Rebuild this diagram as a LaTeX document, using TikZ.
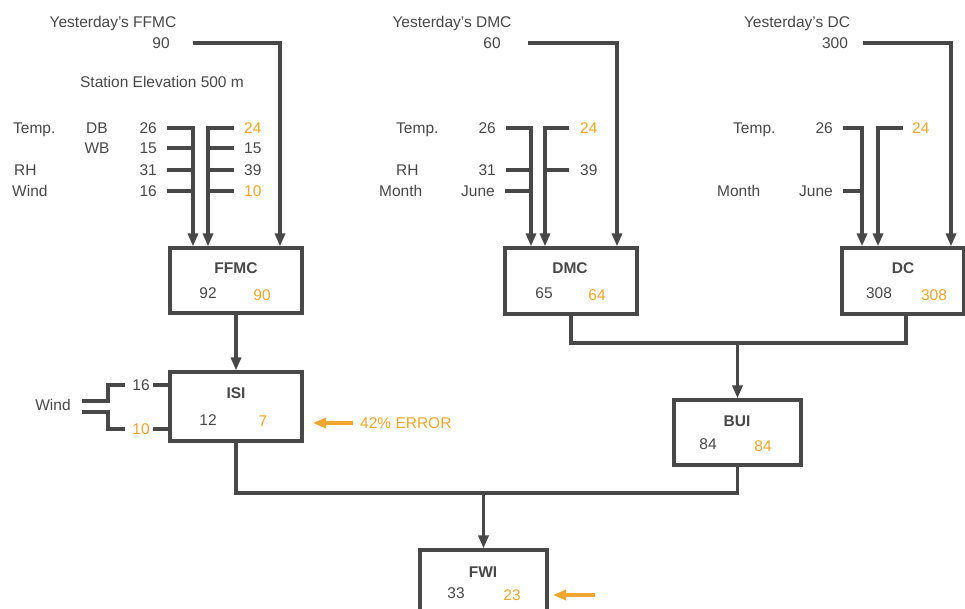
\documentclass[tikz,border=0pt]{standalone}
\usepackage{fontspec}
\setmainfont{Liberation Sans}
\usetikzlibrary{arrows.meta}
\definecolor{ink}{HTML}{484848}
\definecolor{org}{HTML}{F0A630}
\tikzset{
  lbl/.style={text=ink, font=\fontsize{15.5}{18}\selectfont, inner sep=0pt, text height=11pt, text depth=0pt, anchor=center},
  olbl/.style={lbl, text=org},
  ttl/.style={lbl, font=\fontsize{15.5}{18}\selectfont\bfseries},
  wire/.style={draw=ink, line width=3.2pt},
  arr/.style={wire, -{Triangle[length=13pt,width=10pt]}},
  oarr/.style={draw=org, line width=3.2pt, -{Triangle[length=13pt,width=10pt]}},
  blk/.style={draw=ink, line width=3.2pt, fill=white, inner sep=0pt, minimum width=#1},
  blk/.default=132pt
}
\begin{document}
\begin{tikzpicture}[x=1pt,y=-1pt]
\useasboundingbox (0,0) rectangle (965,608);
\clip (0,0) rectangle (965,608);

% ---------- boxes ----------
\node[blk, minimum height=65pt] (ffmc) at (236,280.5) {};
\node[blk, minimum height=69pt] (isi) at (236,406.5) {};
\node[blk, minimum height=66pt] (dmc) at (571,281) {};
\node[blk=122pt, minimum height=66pt] (dc) at (903,281) {};
\node[blk=127pt, minimum height=65pt] (bui) at (737.5,432.5) {};
\node[blk=127pt, minimum height=66pt] (fwi) at (483.5,583) {};

\node[ttl] (tffmc) at (236,268) {FFMC};
\node[lbl] (ffmc1) at (208,293) {92};
\node[olbl] (ffmc2) at (262,295) {90};
\node[ttl] (tisi) at (236,393) {ISI};
\node[lbl] (isi1) at (208,420) {12};
\node[olbl] (isi2) at (263,421) {7};
\node[ttl] (tdmc) at (570,268) {DMC};
\node[lbl] (dmc1) at (544,293) {65};
\node[olbl] (dmc2) at (597,295) {64};
\node[ttl] (tdc) at (903,268) {DC};
\node[lbl] (dc1) at (879,293) {308};
\node[olbl] (dc2) at (934,295) {308};
\node[ttl] (tbui) at (737,421) {BUI};
\node[lbl] (bui1) at (708,444) {84};
\node[olbl] (bui2) at (763,446) {84};
\node[ttl] (tfwi) at (483,572) {FWI};
\node[lbl] (fwi1) at (456,593) {33};
\node[olbl] (fwi2) at (512,595) {23};

% ---------- FFMC inputs ----------
\node[lbl] (yffmc) at (113,22) {Yesterday’s FFMC};
\node[lbl] (y90) at (161,43) {90};
\node[lbl] (elev) at (162,82) {Station Elevation 500 m};
\node[lbl, anchor=west] (ftemp) at (13,128) {Temp.};
\node[lbl] (fdb) at (97,128) {DB};
\node[lbl] (fwb) at (97,148) {WB};
\node[lbl, anchor=west] (frh) at (14,170) {RH};
\node[lbl, anchor=west] (fwnd) at (12,191) {Wind};
\node[lbl, anchor=east] (fa1) at (157,128) {26};
\node[lbl, anchor=east] (fa2) at (157,148) {15};
\node[lbl, anchor=east] (fa3) at (157,170) {31};
\node[lbl, anchor=east] (fa4) at (157,191) {16};
\node[olbl, anchor=west] (fb1) at (244,128) {24};
\node[lbl, anchor=west] (fb2) at (244,148) {15};
\node[lbl, anchor=west] (fb3) at (244,170) {39};
\node[olbl, anchor=west] (fb4) at (244,191) {10};
\coordinate (fL) at (193,0);
\coordinate (fR) at (208,0);
\coordinate (fY) at (280,0);

\draw[arr] ([xshift=23pt]y90.east) -| (fY |- ffmc.north);
\draw[arr] ([xshift=10pt]fa1.east) -| (fL |- ffmc.north);
\draw[wire] ([xshift=10pt]fa2.east) -- (fa2.east -| fL);
\draw[wire] ([xshift=10pt]fa3.east) -- (fa3.east -| fL);
\draw[wire] ([xshift=10pt]fa4.east) -- (fa4.east -| fL);
\draw[arr] ([xshift=-10pt]fb1.west) -| (fR |- ffmc.north);
\draw[wire] ([xshift=-10pt]fb2.west) -- (fb2.west -| fR);
\draw[wire] ([xshift=-10pt]fb3.west) -- (fb3.west -| fR);
\draw[wire] ([xshift=-10pt]fb4.west) -- (fb4.west -| fR);

% ---------- DMC inputs ----------
\node[lbl] (ydmc) at (452,22) {Yesterday’s DMC};
\node[lbl] (y60) at (492,43) {60};
\node[lbl, anchor=west] (dtemp) at (396,128) {Temp.};
\node[lbl, anchor=west] (drh) at (396,170) {RH};
\node[lbl, anchor=west] (dmon) at (379,191) {Month};
\node[lbl, anchor=east] (da1) at (496,128) {26};
\node[lbl, anchor=east] (da2) at (496,170) {31};
\node[lbl, anchor=east] (da3) at (495,191) {June};
\node[olbl, anchor=west] (db1) at (580,128) {24};
\node[lbl, anchor=west] (db2) at (580,170) {39};
\coordinate (dL) at (531,0);
\coordinate (dR) at (545,0);
\coordinate (dY) at (617,0);

\draw[arr] ([xshift=27pt]y60.east) -| (dY |- dmc.north);
\draw[arr] ([xshift=10pt]da1.east) -| (dL |- dmc.north);
\draw[wire] ([xshift=10pt]da2.east) -- (da2.east -| dL);
\draw[wire] ([xshift=10pt]da3.east) -- (da3.east -| dL);
\draw[arr] ([xshift=-11pt]db1.west) -| (dR |- dmc.north);
\draw[wire] ([xshift=-11pt]db2.west) -- (db2.west -| dR);

% ---------- DC inputs ----------
\node[lbl] (ydc) at (797,22) {Yesterday’s DC};
\node[lbl] (y300) at (835,43) {300};
\node[lbl, anchor=west] (ctemp) at (733,128) {Temp.};
\node[lbl, anchor=west] (cmon) at (717,191) {Month};
\node[lbl, anchor=east] (ca1) at (833,128) {26};
\node[lbl, anchor=east] (ca2) at (833,191) {June};
\node[olbl, anchor=west] (cb1) at (912,128) {24};
\coordinate (cL) at (862,0);
\coordinate (cR) at (878,0);
\coordinate (cY) at (951,0);

\draw[arr] ([xshift=15pt]y300.east) -| (cY |- dc.north);
\draw[arr] ([xshift=10pt]ca1.east) -| (cL |- dc.north);
\draw[wire] ([xshift=10pt]ca2.east) -- (ca2.east -| cL);
\draw[arr] ([xshift=-9pt]cb1.west) -| (cR |- dc.north);

% ---------- ISI ----------
\draw[arr] (ffmc.south) -- (isi.north);
\node[lbl] (wl) at (53,405) {Wind};
\node[lbl] (i16) at (141,385) {16};
\node[olbl] (i10) at (141,429) {10};
\coordinate (wu) at (82,401);
\coordinate (wd) at (82,412);
\coordinate (wj) at (108,0);
\draw[wire] (wu) -- (wu -| wj) |- ([xshift=-7pt]i16.west);
\draw[wire] (wd) -- (wd -| wj) |- ([xshift=-7pt]i10.west);
\draw[wire] ([xshift=3pt]i16.east) -- (i16.east -| isi.west);
\draw[wire] ([xshift=3pt]i10.east) -- (i10.east -| isi.west);

\node[olbl, anchor=west] (err) at (360,423) {42\% ERROR};
\coordinate (errT) at (313,423);
\draw[oarr] ([xshift=-7pt]err.west) -- (errT);

% ---------- BUI ----------
\coordinate (bus2) at (737.5,343);
\coordinate (dcB) at (906,0);
\draw[wire] (dmc.south) |- (bus2) -| (dcB |- dc.south);
\draw[arr] (bus2) -- (bui.north);

% ---------- FWI ----------
\coordinate (bus) at (483.5,493);
\draw[wire] (isi.south) |- (bus) -| (bui.south);
\draw[arr] (bus) -- (fwi.north);
\coordinate (fwA) at (595,595);
\coordinate (fwB) at (553,595);
\draw[oarr] (fwA) -- (fwB);
\end{tikzpicture}
\end{document}
